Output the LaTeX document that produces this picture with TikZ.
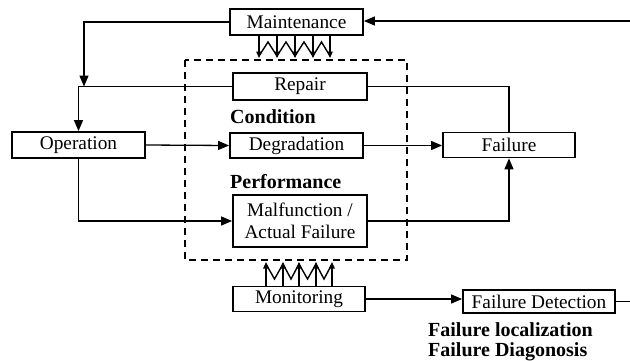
\documentclass[tikz,border=0pt]{standalone}
\usepackage{fontspec}
\setmainfont{Liberation Serif}
\usetikzlibrary{arrows.meta}
\begin{document}
\begin{tikzpicture}[x=1pt,y=-1pt,
  every node/.style={font=\fontsize{19.3}{21.5}\selectfont},
  blk/.style={draw,line width=1.8pt,inner sep=0pt,align=center},
  conn/.style={line width=1.3pt},
  arr/.style={conn,-{Triangle[length=11pt,width=9pt]}},
  small/.style={line width=1.3pt,-{Triangle[length=6.5pt,width=5.5pt]}},
  zig/.style={line width=1.4pt},
  lbl/.style={font=\fontsize{20}{22}\selectfont\bfseries,anchor=west,inner sep=0pt}]
\useasboundingbox (0,0) rectangle (630,360);
% dashed box
\draw[dashed,line width=1.4pt,dash pattern=on 7pt off 5pt] (185,60) rectangle (407,260);
% blocks
\node[blk,minimum width=133,minimum height=26] (maint) at (296.5,22) {Maintenance};
\node[blk,minimum width=134,minimum height=27] (repair) at (300,86.5) {Repair};
\node[blk,minimum width=133,minimum height=26] (oper) at (78.5,145) {Operation};
\node[blk,minimum width=133,minimum height=25] (degr) at (296.5,145.5) {Degradation};
\node[blk,minimum width=132,minimum height=25] (fail) at (509,145) {Failure};
\node[blk,minimum width=134,minimum height=52] (malf) at (300,221) {Malfunction /\\Actual Failure};
\node[blk,minimum width=132,minimum height=25] (moni) at (299,299) {Monitoring};
\node[blk,minimum width=152,minimum height=23] (fdet) at (539,301.5) {Failure Detection};
% labels
\node[lbl] (cond) at (230,117) {Condition};
\node[lbl] (perf) at (230,182) {Performance};
\node[lbl] (floc) at (428,330) {Failure localization};
\node[lbl] (fdia) at (428,352) {Failure Diagonosis};
% coordinates
\coordinate (rin) at (630,21);
\coordinate (rout) at (630,301.5);
\coordinate (mj) at (84,86.5);
% connectors
\draw[arr] (rin) -- (rin -| maint.east);
\draw[arr] (maint.west) -| (mj);
\draw[arr] (repair.west) -| (oper.north);
\draw[arr] (oper.east) -- (degr.west);
\draw[arr] (oper.south) |- (malf.west);
\draw[conn] (repair.east) -| (fail.north);
\draw[arr] (degr.east) -- (degr.east -| fail.west);
\draw[arr] (malf.east) -| (fail.south);
\draw[arr] (moni.east) -- (moni.east -| fdet.west);
\draw[conn] (fdet.east) -- (rout);
% top zigzag arrows
\foreach \x in {259,277,295,313,330}
  \draw[small] (\x,35) -- (\x,58);
\draw[zig] (259,56) -- (268,42) -- (277,56) -- (286,42) -- (295,56) -- (304,42) -- (313,56) -- (321.5,42) -- (330,56);
% bottom zigzag arrows
\foreach \x in {266,283,299,316,332}
  \draw[small] (\x,287) -- (\x,262);
\draw[zig] (266,264) -- (274.5,279) -- (283,264) -- (291,279) -- (299,264) -- (307.5,279) -- (316,264) -- (324,279) -- (332,264);
\end{tikzpicture}
\end{document}
